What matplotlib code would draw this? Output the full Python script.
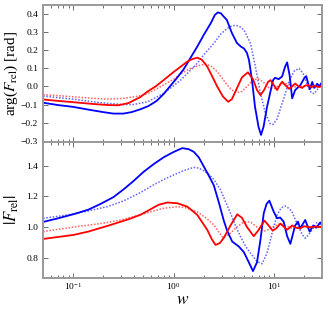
import numpy as np
import matplotlib
matplotlib.use("Agg")
import matplotlib.pyplot as plt
from matplotlib.ticker import LogLocator, NullFormatter

plt.rcParams['font.family'] = ['Liberation Serif', 'DejaVu Serif']
plt.rcParams['mathtext.fontset'] = 'stix'

# ---- data: (log10 w, value) ----
# top panel: arg(F_rel) [rad]
arg_b_logw = [-1.30,-1.15,-1.00,-0.85,-0.70,-0.60,-0.50,-0.42,-0.33,-0.25,-0.17,-0.10,-0.03,0.03,0.10,0.17,0.24,0.30,0.37,0.41,0.44,0.47,0.50,0.53,0.58,0.63,0.67,0.70,0.73,0.75,0.78,0.81,0.845,0.87,0.895,0.93,0.96,0.99,1.01,1.045,1.08,1.11,1.13,1.155,1.18,1.21,1.26,1.30,1.32,1.355,1.38,1.40,1.43,1.45,1.477]
arg_b = [-0.090,-0.103,-0.113,-0.128,-0.142,-0.150,-0.150,-0.142,-0.126,-0.108,-0.080,-0.042,0.005,0.045,0.095,0.160,0.225,0.285,0.350,0.395,0.409,0.404,0.385,0.367,0.295,0.240,0.220,0.210,0.185,0.146,0.035,-0.112,-0.223,-0.268,-0.223,-0.112,-0.038,0.035,0.048,0.040,0.055,0.110,0.133,0.060,-0.066,-0.020,0.006,0.045,0.057,-0.016,0.025,-0.008,0.015,0.000,0.024]

arg_bd_logw = [-1.30,-1.15,-1.00,-0.80,-0.65,-0.50,-0.40,-0.26,-0.10,0.00,0.07,0.15,0.235,0.30,0.40,0.47,0.533,0.58,0.62,0.66,0.70,0.765,0.814,0.864,0.914,0.96,0.99,1.03,1.07,1.10,1.15,1.20,1.25,1.29,1.33,1.37,1.40,1.44,1.477]
arg_bd = [-0.053,-0.062,-0.070,-0.085,-0.094,-0.100,-0.100,-0.085,-0.038,0.004,0.035,0.080,0.128,0.175,0.238,0.290,0.321,0.335,0.338,0.330,0.312,0.238,0.109,-0.038,-0.149,-0.205,-0.210,-0.180,-0.110,-0.060,0.030,0.085,0.100,0.070,0.010,-0.035,-0.040,-0.010,0.015]

arg_r_logw = [-1.30,-1.15,-1.00,-0.80,-0.65,-0.55,-0.45,-0.33,-0.26,-0.18,-0.10,0.00,0.07,0.13,0.18,0.235,0.28,0.335,0.38,0.434,0.49,0.543,0.58,0.63,0.68,0.74,0.79,0.83,0.864,0.90,0.94,0.965,1.00,1.03,1.06,1.08,1.115,1.15,1.18,1.21,1.245,1.28,1.31,1.34,1.37,1.40,1.44,1.477]
arg_r = [-0.072,-0.080,-0.087,-0.097,-0.103,-0.104,-0.092,-0.058,-0.028,0.000,0.035,0.080,0.109,0.135,0.150,0.159,0.148,0.109,0.060,-0.001,-0.055,-0.085,-0.070,-0.010,0.050,0.078,0.040,-0.020,-0.048,-0.020,0.025,0.035,0.005,-0.020,0.010,0.026,0.005,-0.013,0.000,0.016,0.000,-0.008,0.005,0.008,-0.005,0.004,-0.003,0.002]

arg_rd_logw = [-1.30,-1.15,-1.00,-0.80,-0.66,-0.50,-0.40,-0.33,-0.26,-0.10,0.00,0.07,0.15,0.235,0.318,0.38,0.434,0.49,0.533,0.58,0.63,0.68,0.73,0.79,0.84,0.89,0.95,1.00,1.05,1.10,1.16,1.22,1.30,1.38,1.477]
arg_rd = [-0.045,-0.051,-0.057,-0.066,-0.070,-0.066,-0.058,-0.051,-0.040,0.008,0.040,0.069,0.095,0.113,0.124,0.110,0.081,0.040,0.008,-0.020,-0.035,-0.028,0.000,0.035,0.043,0.025,-0.008,-0.012,0.005,0.018,0.010,-0.005,0.003,-0.002,0.000]

# bottom panel: |F_rel|
mag_b_logw = [-1.30,-1.15,-1.00,-0.85,-0.73,-0.60,-0.50,-0.40,-0.30,-0.20,-0.10,0.00,0.086,0.15,0.20,0.25,0.30,0.35,0.40,0.45,0.50,0.533,0.583,0.65,0.70,0.748,0.79,0.83,0.864,0.897,0.925,0.953,0.996,1.03,1.06,1.095,1.13,1.162,1.19,1.21,1.238,1.26,1.31,1.354,1.39,1.42,1.46,1.477]
mag_b = [1.033,1.057,1.083,1.113,1.150,1.195,1.245,1.300,1.360,1.410,1.455,1.490,1.515,1.508,1.491,1.455,1.395,1.335,1.272,1.160,1.040,0.975,0.905,0.872,0.835,0.770,0.712,0.770,0.915,1.090,1.150,1.172,1.100,1.057,1.062,1.035,0.940,0.890,0.960,1.010,1.035,0.990,1.046,0.970,1.010,0.995,1.030,1.010]

mag_bd_logw = [-1.30,-1.15,-1.00,-0.85,-0.66,-0.50,-0.33,-0.20,-0.10,0.00,0.10,0.20,0.25,0.30,0.35,0.40,0.467,0.52,0.566,0.615,0.665,0.715,0.765,0.83,0.88,0.93,0.98,1.03,1.07,1.112,1.15,1.178,1.21,1.245,1.28,1.31,1.345,1.377,1.427,1.45,1.477]
mag_bd = [1.057,1.070,1.085,1.105,1.133,1.170,1.225,1.275,1.310,1.340,1.368,1.389,1.385,1.367,1.345,1.310,1.242,1.160,1.090,1.010,0.937,0.875,0.829,0.775,0.760,0.829,0.959,1.079,1.125,1.137,1.120,1.100,1.050,1.003,0.950,0.927,0.950,0.980,1.030,1.025,1.010]

mag_r_logw = [-1.30,-1.15,-1.00,-0.85,-0.66,-0.50,-0.43,-0.33,-0.26,-0.15,-0.063,0.036,0.136,0.235,0.335,0.38,0.417,0.46,0.50,0.566,0.633,0.68,0.73,0.797,0.84,0.904,0.945,0.986,1.02,1.063,1.10,1.13,1.18,1.22,1.26,1.30,1.36,1.42,1.477]
mag_r = [0.922,0.935,0.948,0.970,1.007,1.040,1.055,1.080,1.105,1.145,1.160,1.155,1.133,1.079,0.981,0.920,0.883,0.895,0.930,1.010,1.083,1.060,1.000,0.940,0.975,1.042,1.010,0.976,0.990,1.022,1.000,0.982,1.010,0.995,0.992,1.005,0.998,1.003,1.000]

mag_rd_logw = [-1.30,-1.15,-1.00,-0.85,-0.66,-0.50,-0.33,-0.20,-0.10,0.037,0.12,0.235,0.32,0.40,0.49,0.55,0.62,0.68,0.73,0.77,0.82,0.864,0.90,0.95,1.00,1.063,1.11,1.18,1.24,1.30,1.38,1.477]
mag_rd = [0.970,0.985,0.999,1.012,1.029,1.050,1.080,1.105,1.122,1.133,1.125,1.100,1.060,1.014,0.930,0.950,0.995,1.025,1.035,1.030,1.005,0.981,0.972,0.985,1.005,1.022,1.010,0.990,0.998,1.004,0.998,1.000]

xlim = (0.05, 30)
ylim_top = (-0.307, 0.45)
ylim_bot = (0.667, 1.555)
top_yticks = [-0.3, -0.2, -0.1, 0.0, 0.1, 0.2, 0.3, 0.4]
bot_yticks = [0.8, 1.0, 1.2, 1.4]

W, H = 328, 313
fig = plt.figure(figsize=(W/100, H/100), dpi=100)
ax1 = fig.add_axes([43/W, 1-142/H, 279/W, 137/H])
ax2 = fig.add_axes([43/W, 1-278/H, 279/W, 136/H], sharex=ax1)

def w(lw):
    return 10**np.asarray(lw)

solid_kw = dict(lw=1.3, solid_capstyle='round', solid_joinstyle='round')
dot_kw = dict(lw=1.1, linestyle=(0, (1, 1.1)), alpha=0.7)

ax1.plot(w(arg_bd_logw), arg_bd, color='#2020ff', **dot_kw)
ax1.plot(w(arg_rd_logw), arg_rd, color='#ff2020', **dot_kw)
ax1.plot(w(arg_b_logw), arg_b, color='#0000ff', **solid_kw)
ax1.plot(w(arg_r_logw), arg_r, color='#ff0000', **solid_kw)

ax2.plot(w(mag_bd_logw), mag_bd, color='#2020ff', **dot_kw)
ax2.plot(w(mag_rd_logw), mag_rd, color='#ff2020', **dot_kw)
ax2.plot(w(mag_b_logw), mag_b, color='#0000ff', **solid_kw)
ax2.plot(w(mag_r_logw), mag_r, color='#ff0000', **solid_kw)

for ax in (ax1, ax2):
    ax.set_xscale('log')
    ax.set_xlim(*xlim)
    ax.xaxis.set_major_locator(LogLocator(base=10, numticks=10))
    ax.xaxis.set_minor_locator(LogLocator(base=10, subs=np.arange(2, 10), numticks=20))
    ax.xaxis.set_minor_formatter(NullFormatter())
    ax.tick_params(which='both', direction='in', top=True, right=True,
                   labelsize=6.8, color='#555555', width=0.6)
    ax.tick_params(which='major', length=3.5)
    ax.tick_params(which='minor', length=2)
    for s in ax.spines.values():
        s.set_color('#999999')
        s.set_linewidth(1.4)

ax1.set_ylim(*ylim_top)
ax1.set_yticks(top_yticks)
ax1.set_yticklabels([f"{t:.1f}".replace('-', '\u2212') for t in top_yticks])
ax1.tick_params(labelbottom=False)
ax1.set_ylabel(r'arg($F_{\rm rel}$) [rad]', fontsize=11)
ax1.yaxis.set_label_coords(-0.082, 0.5)

ax2.set_ylim(*ylim_bot)
ax2.set_yticks(bot_yticks)
ax2.set_yticklabels([f"{t:.1f}" for t in bot_yticks])
ax2.tick_params(axis='x', pad=2.5)
ax2.set_ylabel(r'$|F_{\rm rel}|$', fontsize=12)
ax2.yaxis.set_label_coords(-0.078, 0.5)
ax2.set_xlabel(r'$w$', fontsize=12.5)
ax2.xaxis.set_label_coords(0.5, -0.105)

fig.savefig('out.png', dpi=100)
